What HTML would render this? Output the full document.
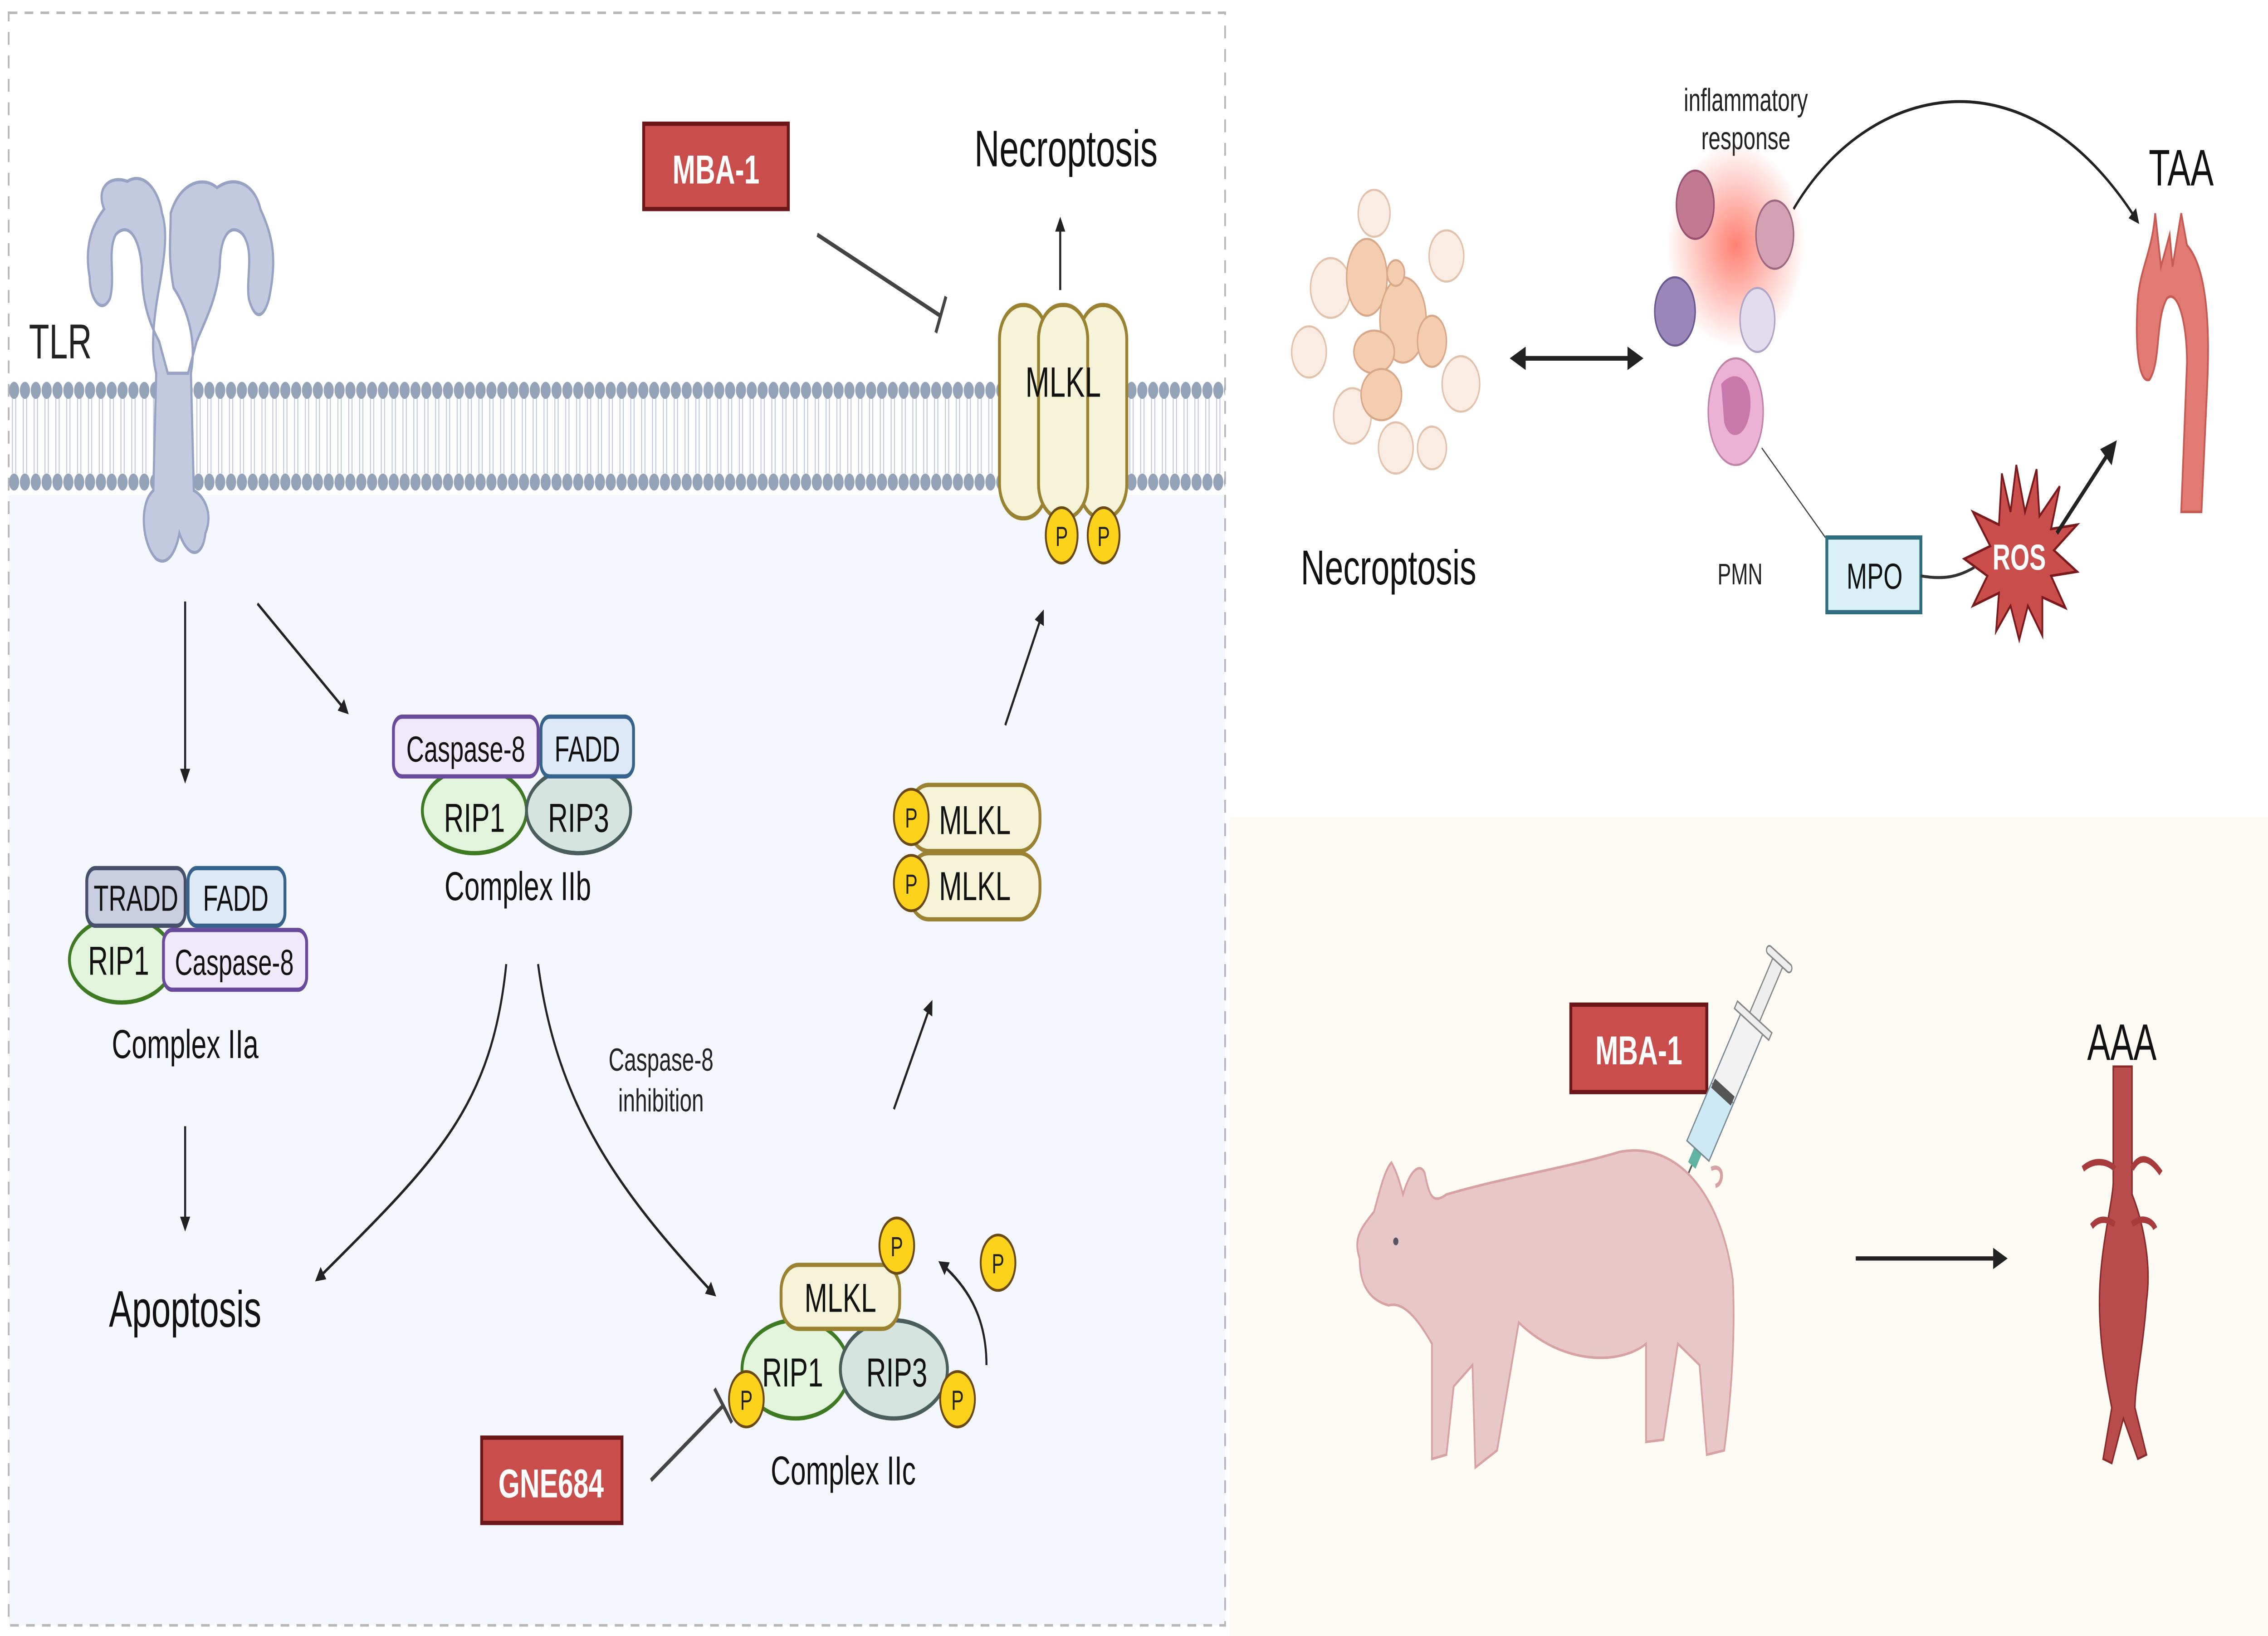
<!DOCTYPE html>
<html><head><meta charset="utf-8"><style>
html,body{margin:0;padding:0;background:#fff;width:100%;height:100%;overflow:hidden}
svg{display:block;position:fixed;left:0;top:0;width:100vw;height:100vh}
text{font-family:"Liberation Sans",sans-serif}
</style></head><body>
<svg viewBox="0 0 1568 767" preserveAspectRatio="none" xmlns="http://www.w3.org/2000/svg">
<defs>
<pattern id="lip" x="6" y="0" width="7.5" height="767" patternUnits="userSpaceOnUse">
<line x1="2.6" y1="186" x2="2.6" y2="222" stroke="#b8c6dc" stroke-width="0.6"/>
<line x1="4.9" y1="186" x2="4.9" y2="222" stroke="#b8c6dc" stroke-width="0.6"/>
<ellipse cx="3.75" cy="183" rx="3.5" ry="4" fill="#94a3b8"/>
<ellipse cx="3.75" cy="226" rx="3.5" ry="4" fill="#94a3b8"/>
</pattern>
<marker id="ah" viewBox="0 0 10 10" refX="8" refY="5" markerWidth="5" markerHeight="5" orient="auto-start-reverse"><path d="M0,0 L10,5 L0,10 z" fill="#222"/></marker>
<radialGradient id="glow"><stop offset="0" stop-color="#ff6a5a" stop-opacity="0.85"/><stop offset="1" stop-color="#ff6a5a" stop-opacity="0"/></radialGradient>
</defs>
<rect x="0" y="0" width="1568" height="767" fill="#fff"/>
<rect x="6" y="232" width="841" height="530" fill="#f4f7fd"/>
<rect x="6" y="6" width="841" height="756" fill="none" stroke="#b8b8b8" stroke-width="1.2" stroke-dasharray="6,5"/>
<rect x="850" y="383" width="718" height="384" fill="#fdfbf4"/>
<rect x="6" y="178" width="841" height="52" fill="url(#lip)"/>
<g fill="#c3c9df" stroke="#98a3c3" stroke-width="1.5">
<path d="M72,98 C66,88 76,82 88,85 C100,80 110,90 112,100 C116,108 114,120 110,135 C106,150 104,165 108,175 L106,230 C96,236 98,255 108,262 C116,266 122,258 124,250 C130,262 140,262 142,250 C148,240 140,232 134,230 L132,175 C136,160 130,145 120,135 C116,120 118,112 118,100 C124,86 140,82 150,88 C162,82 176,86 180,98 C188,110 192,120 186,140 C182,150 176,150 172,140 C170,130 176,118 168,110 C160,104 152,110 152,125 C150,140 142,150 136,160 L130,175 L116,175 L110,160 C102,150 98,140 98,125 C96,110 88,104 80,110 C74,118 80,130 76,140 C70,148 62,140 62,130 C58,115 64,105 72,98 Z"/>
</g>
<text x="20" y="168" font-size="23" fill="#222">TLR</text>
<line x1="128" y1="282" x2="128" y2="366" stroke="#222" stroke-width="1.4" marker-end="url(#ah)"/>
<line x1="178" y1="283" x2="240" y2="334" stroke="#222" stroke-width="1.4" marker-end="url(#ah)"/>
<ellipse cx="328" cy="380" rx="36" ry="20" fill="#e3f4dc" stroke="#3e7a22" stroke-width="2"/>
<ellipse cx="400" cy="380" rx="36" ry="20" fill="#d6e4e0" stroke="#4a5e5c" stroke-width="2"/>
<rect x="272" y="336" width="100" height="28" rx="6" fill="#efe9fa" stroke="#6a4a9c" stroke-width="2"/>
<rect x="374" y="336" width="64" height="28" rx="6" fill="#dde9f7" stroke="#36628e" stroke-width="2"/>
<g font-size="17" fill="#111" text-anchor="middle">
<text x="322" y="357">Caspase-8</text><text x="406" y="357">FADD</text>
<text x="328" y="390" font-size="19">RIP1</text><text x="400" y="390" font-size="19">RIP3</text>
</g>
<text x="358" y="422" font-size="19" text-anchor="middle" fill="#111">Complex IIb</text>
<ellipse cx="84" cy="450" rx="36" ry="20" fill="#e3f4dc" stroke="#3e7a22" stroke-width="2"/>
<rect x="60" y="407" width="68" height="27" rx="6" fill="#c8cde0" stroke="#46506a" stroke-width="2"/>
<rect x="130" y="407" width="67" height="27" rx="6" fill="#dde9f7" stroke="#36628e" stroke-width="2"/>
<rect x="113" y="436" width="99" height="28" rx="6" fill="#efe9fa" stroke="#6a4a9c" stroke-width="2"/>
<g font-size="17" fill="#111" text-anchor="middle">
<text x="94" y="427">TRADD</text><text x="163" y="427">FADD</text>
<text x="82" y="457" font-size="19">RIP1</text><text x="162" y="457">Caspase-8</text>
</g>
<text x="128" y="496" font-size="19" text-anchor="middle" fill="#111">Complex IIa</text>
<line x1="128" y1="528" x2="128" y2="576" stroke="#222" stroke-width="1.4" marker-end="url(#ah)"/>
<text x="128" y="622" font-size="24" text-anchor="middle" fill="#111">Apoptosis</text>
<path d="M350,452 C340,520 300,545 219,600" fill="none" stroke="#222" stroke-width="1.4" marker-end="url(#ah)"/>
<path d="M372,452 C385,520 430,560 494,607" fill="none" stroke="#222" stroke-width="1.4" marker-end="url(#ah)"/>
<text x="457" y="502" font-size="15" text-anchor="middle" fill="#222">Caspase-8</text>
<text x="457" y="521" font-size="15" text-anchor="middle" fill="#222">inhibition</text>
<ellipse cx="550" cy="642" rx="37" ry="23" fill="#e3f4dc" stroke="#3e7a22" stroke-width="2"/>
<ellipse cx="618" cy="642" rx="37" ry="23" fill="#d6e4e0" stroke="#4a5e5c" stroke-width="2"/>
<rect x="540" y="593" width="82" height="30" rx="12" fill="#f5f3d8" stroke="#9a8230" stroke-width="2"/>
<g font-size="19" fill="#111" text-anchor="middle">
<text x="581" y="615">MLKL</text><text x="548" y="650">RIP1</text><text x="620" y="650">RIP3</text>
</g>
<text x="583" y="696" font-size="19" text-anchor="middle" fill="#111">Complex IIc</text>
<path d="M682,640 C682,620 672,605 650,592" fill="none" stroke="#222" stroke-width="1.4" marker-end="url(#ah)"/>
<g fill="#fcd31a" stroke="#6a4a12" stroke-width="1.3">
<ellipse cx="516" cy="656" rx="12" ry="13"/><ellipse cx="620" cy="584" rx="12" ry="13"/>
<ellipse cx="662" cy="656" rx="12" ry="13"/><ellipse cx="690" cy="592" rx="12" ry="13"/>
</g>
<g font-size="13" fill="#222" text-anchor="middle">
<text x="516" y="661">P</text><text x="620" y="589">P</text><text x="662" y="661">P</text><text x="690" y="597">P</text>
</g>
<rect x="333" y="674" width="97" height="40" fill="#c84d4b" stroke="#6b1618" stroke-width="2"/>
<text x="381" y="702" font-size="19" font-weight="bold" text-anchor="middle" fill="#fff">GNE684</text>
<line x1="450" y1="694" x2="500" y2="659" stroke="#444" stroke-width="2"/>
<line x1="494" y1="651" x2="506" y2="667" stroke="#444" stroke-width="2"/>
<line x1="618" y1="520" x2="644" y2="470" stroke="#222" stroke-width="1.4" marker-end="url(#ah)"/>
<rect x="628" y="368" width="91" height="31" rx="14" fill="#f5f3d8" stroke="#9a8230" stroke-width="2"/>
<rect x="628" y="400" width="91" height="31" rx="14" fill="#f5f3d8" stroke="#9a8230" stroke-width="2"/>
<g fill="#fcd31a" stroke="#6a4a12" stroke-width="1.3"><ellipse cx="630" cy="383" rx="12" ry="13"/><ellipse cx="630" cy="414" rx="12" ry="13"/></g>
<g font-size="19" fill="#111" text-anchor="middle"><text x="674" y="391">MLKL</text><text x="674" y="422">MLKL</text></g>
<g font-size="13" fill="#222" text-anchor="middle"><text x="630" y="388">P</text><text x="630" y="419">P</text></g>
<line x1="695" y1="340" x2="721" y2="287" stroke="#222" stroke-width="1.4" marker-end="url(#ah)"/>
<g fill="#f5f3d8" stroke="#9a8230" stroke-width="2">
<rect x="691" y="143" width="33" height="100" rx="16"/><rect x="746" y="143" width="33" height="100" rx="16"/><rect x="718" y="143" width="34" height="100" rx="16"/>
</g>
<text x="735" y="186" font-size="20" text-anchor="middle" fill="#111">MLKL</text>
<g fill="#fcd31a" stroke="#6a4a12" stroke-width="1.3"><ellipse cx="734" cy="251" rx="11" ry="13"/><ellipse cx="763" cy="251" rx="11" ry="13"/></g>
<g font-size="13" fill="#222" text-anchor="middle"><text x="734" y="256">P</text><text x="763" y="256">P</text></g>
<line x1="733" y1="136" x2="733" y2="103" stroke="#222" stroke-width="1.4" marker-end="url(#ah)"/>
<text x="737" y="78" font-size="24" text-anchor="middle" fill="#111">Necroptosis</text>
<rect x="445" y="58" width="100" height="40" fill="#c84d4b" stroke="#6b1618" stroke-width="2"/>
<text x="495" y="86" font-size="19" font-weight="bold" text-anchor="middle" fill="#fff">MBA-1</text>
<line x1="565" y1="110" x2="650" y2="148" stroke="#444" stroke-width="2"/>
<line x1="654" y1="139" x2="647" y2="156" stroke="#444" stroke-width="2"/>
<g stroke="#d8a888" stroke-width="1">
<g fill="#f8e4d6" opacity="0.7">
<circle cx="920" cy="135" r="14"/><circle cx="905" cy="165" r="12"/><circle cx="935" cy="195" r="13"/><circle cx="1000" cy="120" r="12"/><circle cx="1010" cy="180" r="13"/><circle cx="965" cy="210" r="12"/><circle cx="950" cy="100" r="11"/><circle cx="990" cy="210" r="10"/>
</g>
<g fill="#f4cdb0">
<ellipse cx="945" cy="130" rx="14" ry="18"/><ellipse cx="970" cy="150" rx="16" ry="20"/><ellipse cx="950" cy="165" rx="14" ry="10"/><ellipse cx="990" cy="160" rx="10" ry="12"/><ellipse cx="955" cy="185" rx="14" ry="12"/><circle cx="965" cy="128" r="6"/>
</g>
</g>
<text x="960" y="274" font-size="23" text-anchor="middle" fill="#111">Necroptosis</text>
<line x1="1046" y1="168" x2="1134" y2="168" stroke="#222" stroke-width="2.2" marker-end="url(#ah)" marker-start="url(#ah)"/>
<text x="1207" y="52" font-size="15" text-anchor="middle" fill="#222">inflammatory</text>
<text x="1207" y="70" font-size="15" text-anchor="middle" fill="#222">response</text>
<circle cx="1200" cy="115" r="48" fill="url(#glow)"/>
<g stroke-width="1">
<ellipse cx="1172" cy="96" rx="13" ry="16" fill="#c27a92" stroke="#9a5070"/>
<ellipse cx="1227" cy="110" rx="13" ry="16" fill="#d4a0b4" stroke="#a06880"/>
<ellipse cx="1158" cy="146" rx="14" ry="16" fill="#9a86b8" stroke="#6a5890"/>
<ellipse cx="1215" cy="150" rx="12" ry="15" fill="#e2dcec" stroke="#b0a4c8"/>
</g>
<path d="M1240,98 C1290,40 1400,20 1478,104" fill="none" stroke="#222" stroke-width="1.4" marker-end="url(#ah)"/>
<text x="1508" y="87" font-size="24" text-anchor="middle" fill="#111">TAA</text>
<path d="M1490,100 L1494,125 L1500,110 L1502,125 L1508,100 L1512,115 C1525,125 1528,150 1526,180 L1522,240 L1508,240 L1512,170 C1512,150 1505,135 1498,140 C1490,150 1494,170 1486,178 C1478,180 1476,160 1478,140 C1480,125 1488,118 1490,100 Z" fill="#e07a72" stroke="#c85a54" stroke-width="1.2"/>
<ellipse cx="1200" cy="193" rx="19" ry="25" fill="#ecb2d6" stroke="#c084a8" stroke-width="1"/>
<path d="M1190,180 C1200,172 1212,178 1210,192 C1208,205 1196,208 1192,198" fill="#c878aa"/>
<text x="1203" y="274" font-size="14" text-anchor="middle" fill="#222">PMN</text>
<line x1="1218" y1="210" x2="1262" y2="252" stroke="#444" stroke-width="0.7"/>
<rect x="1263" y="252" width="65" height="35" fill="#daf1f7" stroke="#2e6e7e" stroke-width="2"/>
<text x="1296" y="276" font-size="17" text-anchor="middle" fill="#111">MPO</text>
<path d="M1328,270 C1345,272 1355,270 1365,266" fill="none" stroke="#333" stroke-width="1.4"/>
<polygon fill="#c84d4b" stroke="#7a1a1c" stroke-width="1.2" points="1394,218 1400,240 1408,220 1410,242 1424,228 1418,248 1436,246 1420,258 1436,268 1418,270 1428,285 1412,280 1412,298 1402,284 1396,300 1390,284 1380,296 1382,278 1364,284 1374,270 1358,262 1376,256 1364,240 1382,246 1384,222 1390,240"/>
<text x="1396" y="267" font-size="17" font-weight="bold" text-anchor="middle" fill="#fff">ROS</text>
<line x1="1422" y1="250" x2="1462" y2="208" stroke="#222" stroke-width="2.2" marker-end="url(#ah)"/>
<rect x="1086" y="471" width="94" height="41" fill="#c84d4b" stroke="#6b1618" stroke-width="2"/>
<text x="1133" y="499" font-size="19" font-weight="bold" text-anchor="middle" fill="#fff">MBA-1</text>
<g transform="translate(1158,565) rotate(-58)">
<line x1="0" y1="0" x2="22" y2="0" stroke="#555" stroke-width="1"/>
<rect x="22" y="-3" width="8" height="6" fill="#5fb3a0"/>
<rect x="30" y="-9" width="32" height="18" fill="#cde9f5" stroke="#7a8a94" stroke-width="0.8"/>
<rect x="62" y="-9" width="40" height="18" fill="#f2f2f2" stroke="#7a8a94" stroke-width="0.8"/>
<rect x="60" y="-8" width="5" height="16" fill="#555"/>
<rect x="100" y="-14" width="4" height="28" fill="#eee" stroke="#888" stroke-width="0.8"/>
<rect x="104" y="-4" width="30" height="8" fill="#eee" stroke="#888" stroke-width="0.8"/>
<rect x="134" y="-10" width="4" height="20" rx="2" fill="#eee" stroke="#888" stroke-width="0.8"/>
</g>
<path d="M940,590 C935,580 942,575 950,568 C955,555 958,548 962,545 C966,550 968,555 970,560 C975,548 982,545 985,550 C988,560 990,565 1000,560 C1040,552 1080,548 1120,540 C1160,535 1190,560 1198,600 C1200,630 1196,660 1192,680 L1180,682 L1175,640 L1160,630 L1150,675 L1138,676 L1138,630 C1120,640 1080,640 1050,620 L1035,680 L1020,688 L1018,640 L1005,650 L1000,682 L990,684 L990,630 C980,618 970,610 960,612 C950,610 940,605 940,590 Z" fill="#e8c7c8" stroke="#d8a2a4" stroke-width="1.2"/>
<circle cx="965" cy="582" r="1.8" fill="#556"/>
<path d="M1183,548 C1192,545 1192,555 1186,556" fill="none" stroke="#d8a2a4" stroke-width="2"/>
<line x1="1283" y1="590" x2="1386" y2="590" stroke="#222" stroke-width="2" marker-end="url(#ah)"/>
<text x="1467" y="497" font-size="24" text-anchor="middle" fill="#111">AAA</text>
<path d="M1461,500 L1474,500 L1474,560 C1480,570 1488,590 1484,610 C1482,630 1476,650 1476,660 L1484,682 L1478,684 L1468,665 L1460,686 L1454,684 L1460,660 C1454,640 1450,620 1452,600 C1454,580 1460,565 1461,555 Z" fill="#b84c4c" stroke="#8a2a2a" stroke-width="1"/>
<path d="M1440,548 C1450,542 1460,546 1462,548 M1474,548 C1480,540 1488,544 1494,550 M1446,575 C1452,570 1458,572 1462,574 M1474,574 C1480,570 1488,572 1490,576" stroke="#a83c3c" stroke-width="3" fill="none"/>
</svg>
</body></html>
